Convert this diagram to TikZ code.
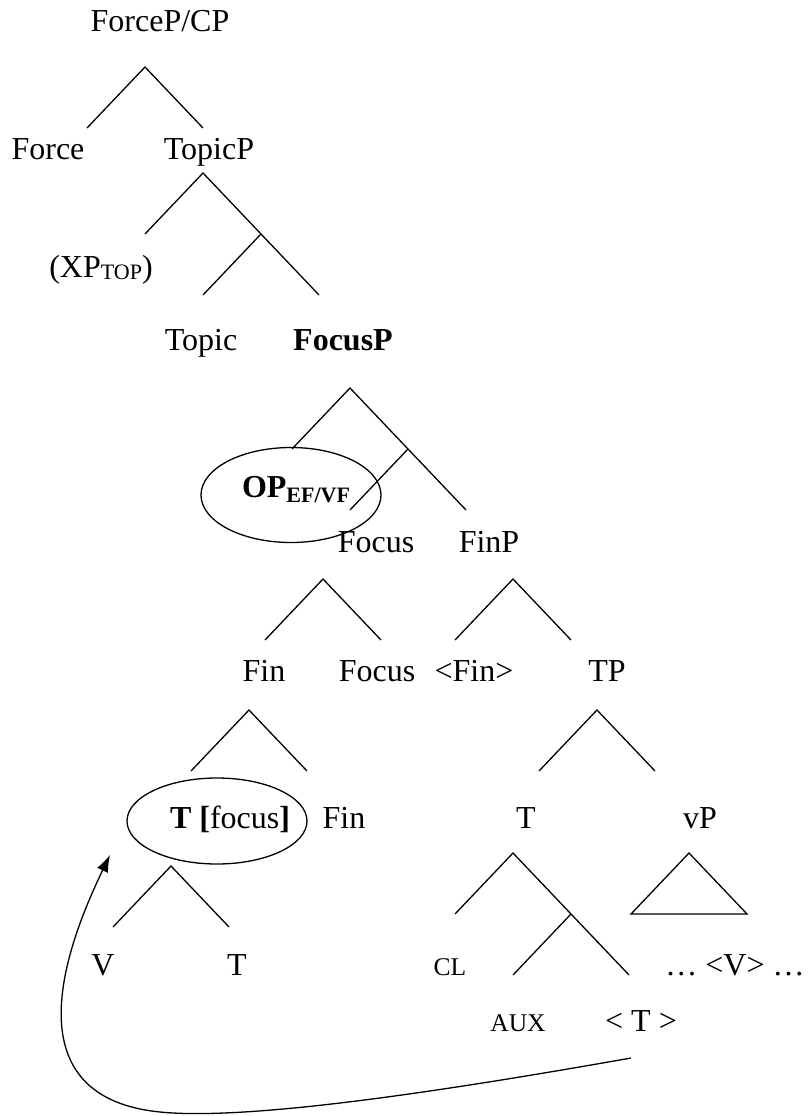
\documentclass[tikz,border=0pt]{standalone}
\usepackage{fontspec}
\setmainfont{Liberation Serif}
\usepackage{tikz}
\usetikzlibrary{arrows.meta,shapes.geometric}

\begin{document}
\begin{tikzpicture}[x=1pt,y=-1pt,line width=1.3pt,
    lbl/.style={anchor=base,inner sep=0pt,font=\fontsize{32}{36}\selectfont},
    sml/.style={anchor=base,inner sep=0pt,font=\fontsize{25.5}{30}\selectfont},
    ring/.style={draw,ellipse,inner sep=0pt}]
            \useasboundingbox (0,0) rectangle (807,1116);
            \def\dx{58}
            \def\dy{61}
            \def\sub#1#2{\raisebox{#1}{\fontsize{22}{24}\selectfont #2}}
            \def\branch#1{\draw (#1) ++(-\dx,\dy) -- (#1) -- ++(\dx,\dy);}
            \def\longbranch#1{\draw (#1) ++(-\dx,\dy) -- (#1) -- ++(2*\dx,2*\dy);
                \draw (#1) ++(\dx,\dy) -- ++(-\dx,\dy);}

            % labels
            \node[lbl] (forcep) at (160,32) {ForceP/CP};
            \node[lbl] (force) at (48,159) {Force};
            \node[lbl] (topicp) at (209,159) {TopicP};
            \node[lbl] (xptop) at (101,277) {(XP\sub{-2pt}{TOP})};
            \node[lbl] (topic) at (201,350) {Topic};
            \node[lbl,font=\fontsize{32}{36}\selectfont\bfseries] (focusp) at (343,350) {FocusP};
            \node[lbl,font=\fontsize{32}{36}\selectfont\bfseries] (op) at (296,497) {OP\sub{-5pt}{EF/VF}};
            \node[lbl] (focus1) at (376,552) {Focus};
            \node[lbl] (finp) at (489,552) {FinP};
            \node[lbl] (fin1) at (264,681) {Fin};
            \node[lbl] (focus2) at (377,681) {Focus};
            \node[lbl] (fincopy) at (474,681) {<Fin>};
            \node[lbl] (tp) at (607,681) {TP};
            \node[lbl] (tfocus) at (230,828) {\textbf{T [}focus\textbf{]}};
            \node[lbl] (fin2) at (344,828) {Fin};
            \node[lbl] (t1) at (526,828) {T};
            \node[lbl] (vp) at (700,828) {vP};
            \node[lbl] (v) at (103,975) {V};
            \node[lbl] (t2) at (237,975) {T};
            \node[sml] (cl) at (450,975) {CL};
            \node[lbl] (vcopy) at (735,975) {… <V> …};
            \node[sml] (aux) at (518,1031) {AUX};
            \node[lbl] (tcopy) at (641,1031) {< T >};

            % circled items
            \node[ring,minimum width=180pt,minimum height=95pt] (opring) at (291,495) {};
            \node[ring,minimum width=180pt,minimum height=86pt] (tring) at (217,821) {};

            % branching points
            \coordinate (fp-v) at (145,67);
            \coordinate (tp-v) at (203,173);
            \coordinate (fcp-v) at (350,388);
            \coordinate (foc-v) at (323,579);
            \coordinate (finp-v) at (513,579);
            \coordinate (fin-v) at (249,710);
            \coordinate (tpp-v) at (597,710);
            \coordinate (tf-v) at (171,866);
            \coordinate (t-v) at (513,853);
            \coordinate (vp-v) at (689,853);

            \branch{fp-v}
            \longbranch{tp-v}
            \longbranch{fcp-v}
            \branch{foc-v}
            \branch{finp-v}
            \branch{fin-v}
            \branch{tpp-v}
            \branch{tf-v}
            \longbranch{t-v}
            \draw (vp-v) ++(-\dx,\dy) -- (vp-v) -- ++(\dx,\dy) -- cycle;

            % movement of T
            \coordinate (tstart) at (631,1058);
            \coordinate (tend) at (110,855);
            \draw[-{Latex[length=17pt,width=12pt]}] (tstart)
                .. controls (450,1090) and (250,1121) .. (160,1112)
                .. controls (40,1100) and (40,1000) .. (tend);
        \end{tikzpicture}
\end{document}
